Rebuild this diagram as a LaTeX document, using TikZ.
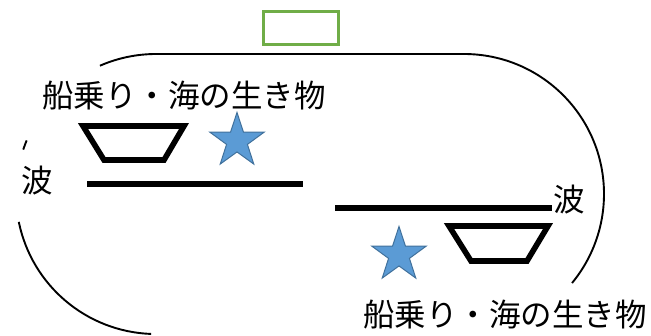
\documentclass[tikz,border=0pt]{standalone}
\usepackage{fontspec}
\newfontfamily\jpfont{Noto Sans CJK JP}
\definecolor{starfill}{HTML}{5B9BD5}
\definecolor{starline}{HTML}{41719C}
\definecolor{tagline}{HTML}{70AD47}
\tikzstyle{outline}=[line width=1.9pt,black]
\tikzstyle{boat}=[line width=5.6pt,black,line join=miter]
\tikzstyle{wave}=[line width=6.5pt,black]
\tikzstyle{seastar}=[star,star points=5,star point ratio=2.6,fill=starfill,
draw=starline,line width=1pt,inner sep=0pt,minimum size=57pt]
\tikzstyle{jptext}=[font=\jpfont\fontsize{31.5}{31.5}\selectfont,inner sep=0pt]
\tikzstyle{tagbox}=[draw=tagline,line width=2.5pt,inner sep=0pt,
minimum width=75pt,minimum height=33pt]
\usetikzlibrary{shapes.geometric}

\begin{document}
\begin{tikzpicture}[x=1pt,y=-1pt]
            \useasboundingbox (0,0) rectangle (651,335);

            % TAG
            \node[tagbox] (tag) at (301,28) {};

            % TRACK
            \coordinate (lc) at (156,194);
            \coordinate (rc) at (464,194);
            \draw[outline] ([shift={(246.4:140)}]lc) arc[start angle=246.4,end angle=270,radius=140]
                -- ([shift={(270:140)}]rc) arc[start angle=-90,end angle=39.5,radius=140];
            \draw[outline] ([shift={(202.5:140)}]lc) arc[start angle=202.5,end angle=198.5,radius=140];
            \draw[outline] ([shift={(168.5:140)}]lc) arc[start angle=168.5,end angle=92,radius=140];

            % UPPER PART
            \node[jptext] (sea1) at (184,96) {船乗り・海の生き物};
            \node[jptext] (wave1) at (37,181) {波};
            \node[seastar] (star1) at (237,141) {};
            \draw[boat] (83,126) -- (184,126) -- (164,160) -- (104,160) -- cycle;
            \draw[wave] (87,184) -- (303,184);

            % LOWER PART
            \node[jptext] (sea2) at (505,315) {船乗り・海の生き物};
            \node[jptext] (wave2) at (569,200) {波};
            \node[seastar] (star2) at (399,255) {};
            \draw[boat] (449,226) -- (548,226) -- (527,261) -- (471,261) -- cycle;
            \draw[wave] (335,208) -- (552,208);

\end{tikzpicture}
\end{document}
